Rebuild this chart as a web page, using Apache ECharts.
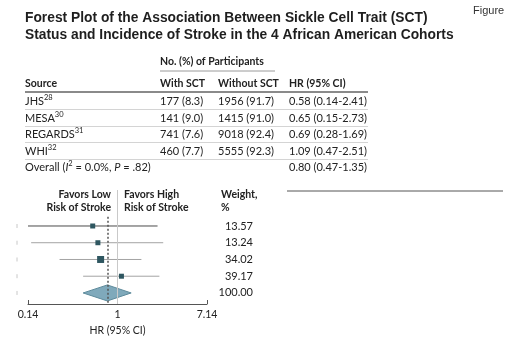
<!DOCTYPE html>
<html>
<head>
<meta charset="utf-8">
<script src="https://cdn.jsdelivr.net/npm/echarts@6/dist/echarts.min.js"></script>
<style>
  html, body { margin: 0; padding: 0; background: #fff; }
  #chart { width: 520px; height: 344px; }
</style>
</head>
<body>
<div id="chart"></div>
<script>
// Cohorts and table values
const SOURCES = ['JHS', 'MESA', 'REGARDS', 'WHI']
const REFS = ['28', '30', '31', '32']
const WITH_N = [177, 141, 741, 460]
const WITH_PCT = [8.3, 9.0, 7.6, 7.7]
const WITHOUT_N = [1956, 1415, 9018, 5555]
const WITHOUT_PCT = [91.7, 91.0, 92.4, 92.3]
const HR = [0.58, 0.65, 0.69, 1.09]
const HR_LO = [0.14, 0.15, 0.28, 0.47]
const HR_HI = [2.41, 2.73, 1.69, 2.51]
const WEIGHTS = [13.57, 13.24, 34.02, 39.17, 100.0]

// Pooled estimate
const OVERALL_HR = 0.8
const OVERALL_LO = 0.47
const OVERALL_HI = 1.35

// Axis tick labels (log scale)
const X_TICKS = [0.14, 1, 7.14]

// Styles
const FONT_TABLE = 'Lato, "Liberation Sans", sans-serif'
const FONT_TITLE = '"Liberation Sans", Arial, sans-serif'
const C_TEXT = '#222'
const C_MARK = '#2e5660'
const C_DIAMOND = '#7fa9bb'
const C_DIAMOND_EDGE = '#5d8a9b'
const MARK_SIZES = [5, 5, 7, 5]
const LINE_COLORS = ['#4a4a4a', '#a3a3a3', '#a3a3a3', '#a3a3a3']

const fmt1 = (v) => v.toFixed(1)
const fmt2 = (v) => v.toFixed(2)
const ln = Math.log

const chart = echarts.init(document.getElementById('chart'), null, { renderer: 'canvas' })

// ---- table (graphic text) ----
const COL_X = { source: 25, withSct: 160, withoutSct: 218, hr: 289 }
const ROW_Y = [101, 118, 134, 151]
const OVERALL_Y = 167
const graphics = []

const txt = (text, x, y, opts = {}) => ({
  type: 'text',
  silent: true,
  style: {
    text,
    x,
    y,
    fill: opts.fill || C_TEXT,
    font: opts.font || `11px ${FONT_TABLE}`,
    align: opts.align || 'left',
    verticalAlign: 'middle',
    rich: opts.rich,
  },
})

// title
graphics.push(txt('Forest Plot of the Association Between Sickle Cell Trait (SCT)', 25, 18, { font: `bold 13.8px ${FONT_TITLE}`, fill: '#1e1e1e' }))
graphics.push(txt('Status and Incidence of Stroke in the 4 African American Cohorts', 25, 35, { font: `bold 13.8px ${FONT_TITLE}`, fill: '#1e1e1e' }))
graphics.push(txt('Figure', 473, 11, { font: `11px ${FONT_TITLE}`, fill: '#333' }))

// header
graphics.push(txt('No. (%) of Participants', COL_X.withSct, 62, { font: `bold 10.5px ${FONT_TABLE}` }))
graphics.push({ type: 'line', silent: true, shape: { x1: 160, y1: 71, x2: 275, y2: 71 }, style: { stroke: '#9a9a9a', lineWidth: 1 } })
graphics.push(txt('Source', COL_X.source, 84, { font: `bold 10.5px ${FONT_TABLE}` }))
graphics.push(txt('With SCT', COL_X.withSct, 84, { font: `bold 10.5px ${FONT_TABLE}` }))
graphics.push(txt('Without SCT', COL_X.withoutSct, 84, { font: `bold 10.5px ${FONT_TABLE}` }))
graphics.push(txt('HR (95% CI)', COL_X.hr, 84, { font: `bold 10.5px ${FONT_TABLE}` }))
graphics.push({ type: 'line', silent: true, shape: { x1: 25, y1: 92, x2: 368, y2: 92 }, style: { stroke: '#8a8a8a', lineWidth: 2 } })

const supRich = {
  a: { font: `11px ${FONT_TABLE}`, fill: C_TEXT, lineHeight: 15 },
  s: { font: `7.5px ${FONT_TABLE}`, fill: C_TEXT, verticalAlign: 'top', lineHeight: 15 },
  i: { font: `italic 11px ${FONT_TABLE}`, fill: C_TEXT, lineHeight: 15 },
}

SOURCES.forEach((s, i) => {
  const y = ROW_Y[i]
  graphics.push(txt(`{a|${s}}{s|${REFS[i]}}`, COL_X.source, y, { rich: supRich }))
  graphics.push(txt(`${WITH_N[i]} (${fmt1(WITH_PCT[i])})`, COL_X.withSct, y))
  graphics.push(txt(`${WITHOUT_N[i]} (${fmt1(WITHOUT_PCT[i])})`, COL_X.withoutSct, y))
  graphics.push(txt(`${fmt2(HR[i])} (${fmt2(HR_LO[i])}-${fmt2(HR_HI[i])})`, COL_X.hr, y))
  const sepY = y + 8.5
  graphics.push({ type: 'line', silent: true, shape: { x1: 25, y1: sepY, x2: 368, y2: sepY }, style: { stroke: '#d4d4d4', lineWidth: 1 } })
})
graphics.push(txt('{a|Overall (}{i|I}{s|2}{a| = 0.0%, }{i|P}{a| = .82)}', COL_X.source, OVERALL_Y, { rich: supRich }))
graphics.push(txt(`${fmt2(OVERALL_HR)} (${fmt2(OVERALL_LO)}-${fmt2(OVERALL_HI)})`, COL_X.hr, OVERALL_Y))

// right-hand rule
graphics.push({ type: 'line', silent: true, shape: { x1: 287, y1: 191, x2: 503, y2: 191 }, style: { stroke: '#555', lineWidth: 1 } })

// forest header labels
const hb = `bold 10.5px ${FONT_TABLE}`
graphics.push(txt('Favors Low', 111, 195, { font: hb, align: 'right' }))
graphics.push(txt('Risk of Stroke', 111, 208, { font: hb, align: 'right' }))
graphics.push(txt('Favors High', 124, 195, { font: hb }))
graphics.push(txt('Risk of Stroke', 124, 208, { font: hb }))
graphics.push(txt('Weight,', 221, 195, { font: hb }))
graphics.push(txt('%', 221, 208, { font: hb }))

// ---- forest plot data ----
const studyData = SOURCES.map((s, i) => [ln(HR_LO[i]), ln(HR_HI[i]), ln(HR[i]), i])
const overallRow = SOURCES.length
const weightData = WEIGHTS.map((w, i) => [0, i, w])

chart.setOption({
  animation: false,
  graphic: graphics,
  grid: { left: 28, right: 313, top: 190, height: 114 },
  xAxis: {
    type: 'value',
    min: ln(X_TICKS[0]),
    max: ln(X_TICKS[X_TICKS.length - 1]),
    name: 'HR (95% CI)',
    nameLocation: 'middle',
    nameGap: 21,
    nameTextStyle: { fontFamily: FONT_TABLE, fontSize: 10.5, color: C_TEXT },
    axisLine: { onZero: false, lineStyle: { color: '#555', width: 1 } },
    axisTick: { inside: true, length: 4, lineStyle: { color: '#555' }, customValues: X_TICKS.map(ln) },
    axisLabel: {
      customValues: X_TICKS.map(ln),
      color: C_TEXT,
      fontFamily: FONT_TABLE,
      fontSize: 10.5,
      margin: 5,
      formatter: (v) => {
        const k = X_TICKS.findIndex((t) => Math.abs(ln(t) - v) < 1e-6)
        return k >= 0 ? String(X_TICKS[k]) : ''
      },
    },
    splitLine: { show: false },
  },
  yAxis: {
    type: 'value',
    inverse: true,
    min: -2.15,
    max: 4.66,
    show: false,
  },
  series: [
    {
      // reference lines
      type: 'custom',
      silent: true,
      data: [],
      renderItem: () => null,
      markLine: {
        silent: true,
        symbol: 'none',
        label: { show: false },
        data: [
          [{ coord: [0, -2.15], lineStyle: { color: '#c9c9c9', width: 1, type: 'solid' } }, { coord: [0, 4.66] }],
          [{ coord: [ln(OVERALL_HR), -0.55], lineStyle: { color: '#555', width: 1.5, type: [2, 2] } }, { coord: [ln(OVERALL_HR), 4.6] }],
        ],
      },
    },
    {
      // study CIs and point estimates
      type: 'custom',
      silent: true,
      z: 3,
      data: studyData,
      renderItem: (params, api) => {
        const row = api.value(3)
        const a = api.coord([api.value(0), row])
        const b = api.coord([api.value(1), row])
        const p = api.coord([api.value(2), row])
        const sz = MARK_SIZES[params.dataIndex]
        return {
          type: 'group',
          children: [
            { type: 'line', shape: { x1: 17, y1: a[1] - 2, x2: 17, y2: a[1] + 2 }, style: { stroke: '#c8c8c8', lineWidth: 1 } },
            { type: 'line', shape: { x1: a[0], y1: a[1], x2: b[0], y2: b[1] }, style: { stroke: LINE_COLORS[params.dataIndex], lineWidth: 1 } },
            { type: 'rect', shape: { x: p[0] - sz / 2, y: p[1] - sz / 2, width: sz, height: sz }, style: { fill: C_MARK } },
          ],
        }
      },
    },
    {
      // pooled diamond
      type: 'custom',
      silent: true,
      z: 4,
      data: [[ln(OVERALL_LO), ln(OVERALL_HI), ln(OVERALL_HR), overallRow]],
      renderItem: (params, api) => {
        const row = api.value(3)
        const a = api.coord([api.value(0), row])
        const b = api.coord([api.value(1), row])
        const p = api.coord([api.value(2), row])
        const h = 8
        return {
          type: 'group',
          children: [
            { type: 'line', shape: { x1: 17, y1: a[1] - 2, x2: 17, y2: a[1] + 2 }, style: { stroke: '#c8c8c8', lineWidth: 1 } },
            {
              type: 'polygon',
              shape: { points: [[a[0], a[1]], [p[0], p[1] - h], [b[0], b[1]], [p[0], p[1] + h]] },
              style: { fill: C_DIAMOND, stroke: C_DIAMOND_EDGE, lineWidth: 1 },
            },
          ],
        }
      },
    },
    {
      // weight column
      type: 'custom',
      silent: true,
      data: weightData,
      renderItem: (params, api) => {
        const p = api.coord([0, api.value(1)])
        return {
          type: 'text',
          style: {
            text: fmt2(api.value(2)),
            x: 253,
            y: p[1],
            align: 'right',
            verticalAlign: 'middle',
            font: `11px ${FONT_TABLE}`,
            fill: C_TEXT,
          },
        }
      },
    },
  ],
})
</script>
</body>
</html>
